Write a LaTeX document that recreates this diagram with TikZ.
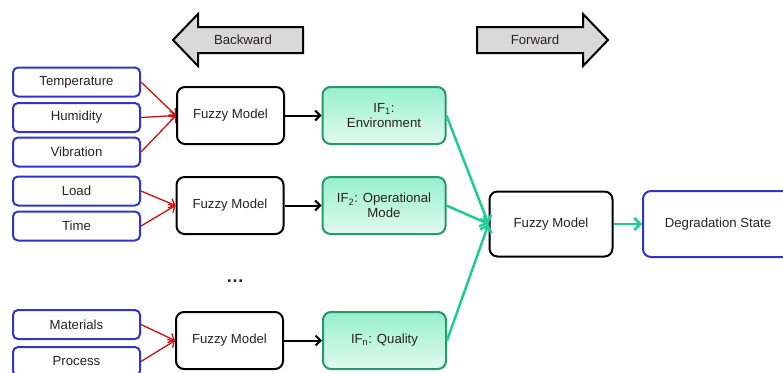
\documentclass[tikz,border=0pt]{standalone}
\usepackage{fontspec}
\setmainfont{Liberation Sans}
\usetikzlibrary{arrows.meta}
\definecolor{inblue}{RGB}{51,51,200}
\definecolor{redarr}{RGB}{204,17,17}
\definecolor{greenarr}{RGB}{30,205,150}
\definecolor{ifborder}{RGB}{40,150,110}
\definecolor{iftop}{RGB}{150,240,205}
\definecolor{ifbot}{RGB}{225,250,240}
\definecolor{arrowgray}{RGB}{217,217,217}
\definecolor{txt}{RGB}{40,34,34}
\begin{document}
\begin{tikzpicture}[x=1pt,y=-1pt,
  font=\fontsize{13.2}{14.5}\selectfont, text=txt,
  inbox/.style={draw=inblue, line width=2pt, rounded corners=5pt, fill=white,
    minimum width=127pt, minimum height=29pt, inner sep=0pt},
  fuzzybox/.style={draw=black, line width=2pt, rounded corners=8pt, fill=white,
    minimum width=107pt, minimum height=57pt, inner sep=0pt, align=center},
  ifbox/.style={draw=ifborder, line width=2pt, rounded corners=8pt,
    top color=iftop, bottom color=ifbot,
    minimum width=123pt, minimum height=57pt, inner sep=0pt, align=center},
  blockarr/.style={draw=black, line width=2pt, fill=arrowgray, line join=miter},
  redline/.style={draw=redarr, line width=1.3pt, -{Straight Barb[length=5pt,width=10pt]}},
  blackline/.style={draw=black, line width=2pt, -{Straight Barb[length=5pt,width=10pt]}},
  greenline/.style={draw=greenarr, line width=2.5pt, -{Straight Barb[length=6pt,width=12pt]}}
]
\clip (0,0) rectangle (783,372);
\fill[white] (0,0) rectangle (783,372);

% block arrows
\draw[blockarr] (173,40) -- (198,14) -- (198,27) -- (303,27) -- (303,53) -- (198,53) -- (198,66) -- cycle;
\node (backlbl) at (243,40) {Backward};
\draw[blockarr] (608,40) -- (583,14) -- (583,27) -- (477,27) -- (477,53) -- (583,53) -- (583,66) -- cycle;
\node (fwdlbl) at (535,40) {Forward};

% inputs
\node[inbox] (temp) at (76.5,82) {Temperature};
\node[inbox] (hum)  at (76.5,117.5) {Humidity};
\node[inbox] (vib)  at (76.5,152) {Vibration};
\node[inbox] (load) at (76.5,191) {Load};
\node[inbox] (time) at (76.5,226) {Time};
\node[inbox] (mat)  at (76.5,324.5) {Materials};
\node[inbox] (proc) at (76.5,361.5) {Process};

% fuzzy models
\node[fuzzybox] (fm1) at (230.5,115.5) {Fuzzy Model};
\node[fuzzybox] (fm2) at (230,205.5) {Fuzzy Model};
\node[fuzzybox] (fm3) at (229.5,340.5) {Fuzzy Model};

% IF boxes
\node[ifbox] (if1) at (384,115.5) {IF\textsubscript{1}:\\Environment};
\node[ifbox] (if2) at (384,205.5) {IF\textsubscript{2}: Operational\\Mode};
\node[ifbox] (ifn) at (384.5,340.5) {IF\textsubscript{n}: Quality};

% final
\node[fuzzybox, minimum width=123pt, minimum height=65pt] (fmf) at (551,224) {Fuzzy Model};
\node[draw=inblue, line width=2pt, rounded corners=8pt, fill=white,
  minimum width=150pt, minimum height=66pt, inner sep=0pt] (deg) at (718,224) {Degradation State};

\node[font=\fontsize{18}{18}\selectfont\bfseries] (dots) at (235,281) {\ldots};

% red connectors
\draw[redline] (temp.east) -- (fm1.west);
\draw[redline] (hum.east) -- (fm1.west);
\draw[redline] (vib.east) -- (fm1.west);
\draw[redline] (load.east) -- (fm2.west);
\draw[redline] (time.east) -- (fm2.west);
\draw[redline] (mat.east) -- (fm3.west);
\draw[redline] (proc.east) -- (fm3.west);

% black connectors
\draw[blackline] (fm1.east) -- (if1.west);
\draw[blackline] (fm2.east) -- (if2.west);
\draw[blackline] (fm3.east) -- (ifn.west);

% green connectors
\draw[greenline] (if1.east) -- (fmf.west);
\draw[greenline] (if2.east) -- (fmf.west);
\draw[greenline] (ifn.east) -- (fmf.west);
\draw[greenline] (fmf.east) -- (deg.west);
\end{tikzpicture}
\end{document}
